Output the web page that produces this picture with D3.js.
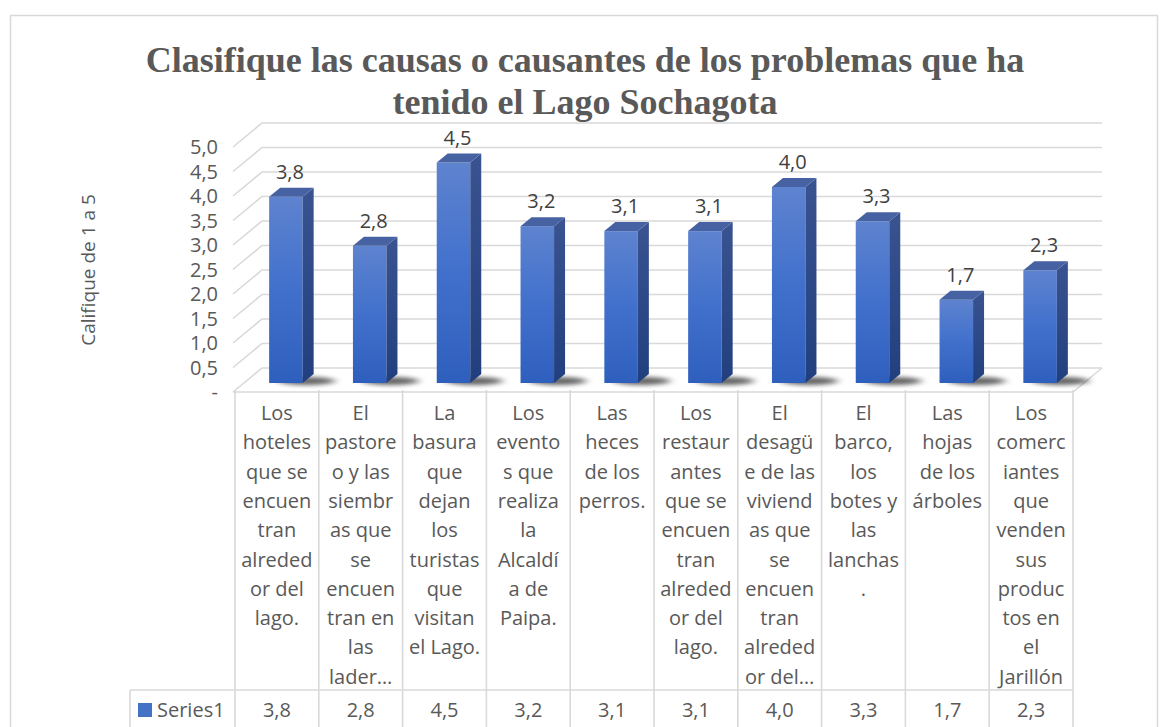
<!DOCTYPE html>
<html>
<head>
<meta charset="utf-8">
<script src="https://cdn.jsdelivr.net/npm/d3@7"></script>
<style>
  body { margin: 0; background: #fff; }
  svg { display: block; }
</style>
</head>
<body>
<svg id="chart"></svg>
<script>
// data
var titleLines = ["Clasifique las causas o causantes de los problemas que ha", "tenido el Lago Sochagota"];
var yTitle = "Califique de 1 a 5";
var seriesName = "Series1";
var values = [3.8, 2.8, 4.5, 3.2, 3.1, 3.1, 4.0, 3.3, 1.7, 2.3];
var yTicks = [0, 0.5, 1, 1.5, 2, 2.5, 3, 3.5, 4, 4.5, 5];
var categoryLines = [
    ["Los", "hoteles", "que se", "encuen", "tran", "alreded", "or del", "lago."],
    ["El", "pastore", "o y las", "siembr", "as que", "se", "encuen", "tran en", "las", "lader\u2026"],
    ["La", "basura", "que", "dejan", "los", "turistas", "que", "visitan", "el Lago."],
    ["Los", "evento", "s que", "realiza", "la", "Alcald\u00ed", "a de", "Paipa."],
    ["Las", "heces", "de los", "perros."],
    ["Los", "restaur", "antes", "que se", "encuen", "tran", "alreded", "or del", "lago."],
    ["El", "desag\u00fc", "e de las", "viviend", "as que", "se", "encuen", "tran", "alreded", "or del\u2026"],
    ["El", "barco,", "los", "botes y", "las", "lanchas", "."],
    ["Las", "hojas", "de los", "\u00e1rboles"],
    ["Los", "comerc", "iantes", "que", "venden", "sus", "produc", "tos en", "el", "Jarill\u00f3n"]
];

var fmt = function(v) { return v === 0 ? "-" : d3.format(".1f")(v).replace(".", ","); };

var svgWidth = 1170, svgHeight = 727;
var sansFont = "'Open Sans', Lato, sans-serif";
var gridColor = "#d9d9d9";

var svg = d3.select("#chart")
    .attr("width", svgWidth)
    .attr("height", svgHeight);

var defs = svg.append("defs");
var gFront = defs.append("linearGradient").attr("id", "gFront").attr("x1", 0).attr("y1", 0).attr("x2", 0).attr("y2", 1);
gFront.append("stop").attr("offset", "0%").attr("stop-color", "#5e83cf");
gFront.append("stop").attr("offset", "50%").attr("stop-color", "#4170cc");
gFront.append("stop").attr("offset", "100%").attr("stop-color", "#2f5fbd");
var gSide = defs.append("linearGradient").attr("id", "gSide").attr("x1", 0).attr("y1", 0).attr("x2", 0).attr("y2", 1);
gSide.append("stop").attr("offset", "0%").attr("stop-color", "#3a5391");
gSide.append("stop").attr("offset", "100%").attr("stop-color", "#213f7e");
defs.append("filter").attr("id", "blur").attr("x", "-50%").attr("y", "-200%").attr("width", "200%").attr("height", "500%")
    .append("feGaussianBlur").attr("stdDeviation", "4 2");

// chart frame
svg.append("rect")
    .attr("x", 10.5).attr("y", 15.5)
    .attr("width", 1147).attr("height", 740)
    .attr("fill", "#fff")
    .attr("stroke", gridColor)
    .attr("stroke-width", 1.5);

// title
svg.append("g").selectAll("text")
    .data(titleLines)
    .enter().append("text")
    .attr("x", 585)
    .attr("y", function(d, i) { return 72 + i * 42; })
    .attr("text-anchor", "middle")
    .attr("font-family", "'Liberation Serif', 'Times New Roman', serif")
    .attr("font-weight", "bold")
    .attr("font-size", 36)
    .attr("fill", "#595959")
    .text(function(d) { return d; });

// scales
var x = d3.scaleBand()
    .domain(d3.range(values.length))
    .range([235, 1073]);

var y = d3.scaleLinear()
    .domain([0, 5])
    .range([392, 147]);

var depth = { x: 29, y: -24 };        // floor front -> back wall
var barFront = { x: 9, y: -9 };       // bar front face offset
var barSide = { x: 11, y: -9 };       // bar depth
var barW = x.bandwidth() * 0.4;

// gridlines: side wall diagonal + back wall
var grid = svg.append("g");
grid.selectAll("path.grid")
    .data(yTicks)
    .enter().append("path")
    .attr("class", "grid")
    .attr("fill", "none")
    .attr("stroke", gridColor)
    .attr("stroke-width", 1.6)
    .attr("d", function(v) {
        var x0 = x.range()[0] - 2, x1 = x.range()[1];
        return "M" + x0 + "," + y(v) +
            "L" + (x0 + depth.x) + "," + (y(v) + depth.y) +
            "L" + (x1 + depth.x) + "," + (y(v) + depth.y);
    });
// floor front edge
grid.append("path")
    .attr("fill", "none")
    .attr("stroke", gridColor)
    .attr("stroke-width", 1.6)
    .attr("d", "M" + (x.range()[0] - 2) + "," + y(0) + "L" + x.range()[1] + "," + y(0) + "L" + (x.range()[1] + depth.x) + "," + (y(0) + depth.y));

// y tick labels
svg.append("g").selectAll("text")
    .data(yTicks)
    .enter().append("text")
    .attr("x", 218)
    .attr("y", function(v) { return y(v); })
    .attr("dy", "0.35em")
    .attr("text-anchor", "end")
    .attr("font-family", sansFont)
    .attr("font-size", 20)
    .attr("fill", "#595959")
    .text(fmt);

// y axis title
svg.append("text")
    .attr("transform", "translate(88,270) rotate(-90)")
    .attr("text-anchor", "middle")
    .attr("dy", "0.35em")
    .attr("font-family", sansFont)
    .attr("font-size", 19)
    .attr("fill", "#595959")
    .text(yTitle);

// bars
var bars = svg.append("g").selectAll("g.bar")
    .data(values)
    .enter().append("g")
    .attr("class", "bar");

function fx(i) { return x(i) + (x.bandwidth() - barW) / 2 + barFront.x; }
function fy(v) { return y(v) + barFront.y; }

bars.append("ellipse")
    .attr("cx", function(d, i) { return fx(i) + barW + 4; })
    .attr("cy", fy(0) - 2)
    .attr("rx", barW * 0.85)
    .attr("ry", 4)
    .attr("fill", "#000")
    .attr("opacity", 0.6)
    .attr("filter", "url(#blur)");

bars.append("rect")
    .attr("x", function(d, i) { return fx(i); })
    .attr("y", function(d) { return fy(d); })
    .attr("width", barW)
    .attr("height", function(d) { return fy(0) - fy(d); })
    .attr("fill", "url(#gFront)");

bars.append("path")
    .attr("fill", "url(#gSide)")
    .attr("d", function(d, i) {
        var x0 = fx(i) + barW;
        return "M" + x0 + "," + fy(d) + "l" + barSide.x + "," + barSide.y +
            "L" + (x0 + barSide.x) + "," + (fy(0) + barSide.y) + "L" + x0 + "," + fy(0) + "Z";
    });

bars.append("path")
    .attr("fill", "#4762a2")
    .attr("d", function(d, i) {
        var x0 = fx(i);
        return "M" + x0 + "," + fy(d) + "l" + barSide.x + "," + barSide.y +
            "l" + barW + ",0l" + (-barSide.x) + "," + (-barSide.y) + "Z";
    });

// data labels
bars.append("text")
    .attr("x", function(d, i) { return fx(i) + barW / 2 + 4; })
    .attr("y", function(d) { return fy(d) - 18; })
    .attr("text-anchor", "middle")
    .attr("font-family", sansFont)
    .attr("font-size", 20)
    .attr("fill", "#404040")
    .text(fmt);

// data table
var table = svg.append("g");
var tTop = 390, tRow = 690, tBottom = 740;
var colEdges = d3.range(values.length + 1).map(function(i) { return i < values.length ? x(i) : x.range()[1]; });

table.selectAll("line.col")
    .data(colEdges)
    .enter().append("line")
    .attr("x1", function(d) { return d; })
    .attr("x2", function(d) { return d; })
    .attr("y1", tTop)
    .attr("y2", tBottom)
    .attr("stroke", gridColor)
    .attr("stroke-width", 1.6);
table.append("line")
    .attr("x1", 130).attr("x2", x.range()[1])
    .attr("y1", tRow).attr("y2", tRow)
    .attr("stroke", gridColor).attr("stroke-width", 1.6);
table.append("line")
    .attr("x1", 130).attr("x2", 130)
    .attr("y1", tRow).attr("y2", tBottom)
    .attr("stroke", gridColor).attr("stroke-width", 1.6);

// category text
table.selectAll("text.cat")
    .data(categoryLines)
    .enter().append("text")
    .attr("class", "cat")
    .attr("font-family", sansFont)
    .attr("font-size", 20)
    .attr("fill", "#595959")
    .attr("text-anchor", "middle")
    .each(function(lines, i) {
        d3.select(this).selectAll("tspan")
            .data(lines)
            .enter().append("tspan")
            .attr("x", x(i) + x.bandwidth() / 2)
            .attr("y", function(d, j) { return 413 + j * 29.3; })
            .attr("dy", "0.35em")
            .text(function(d) { return d; });
    });

// values row
table.selectAll("text.val")
    .data(values)
    .enter().append("text")
    .attr("class", "val")
    .attr("x", function(d, i) { return x(i) + x.bandwidth() / 2; })
    .attr("y", 710)
    .attr("dy", "0.35em")
    .attr("text-anchor", "middle")
    .attr("font-family", sansFont)
    .attr("font-size", 20)
    .attr("fill", "#595959")
    .text(fmt);

// legend key
table.append("rect")
    .attr("x", 138).attr("y", 703)
    .attr("width", 14).attr("height", 14)
    .attr("fill", "#4472c4");
table.append("text")
    .attr("x", 157).attr("y", 710)
    .attr("dy", "0.35em")
    .attr("font-family", sansFont)
    .attr("font-size", 20)
    .attr("fill", "#595959")
    .text(seriesName);
</script>
</body>
</html>
